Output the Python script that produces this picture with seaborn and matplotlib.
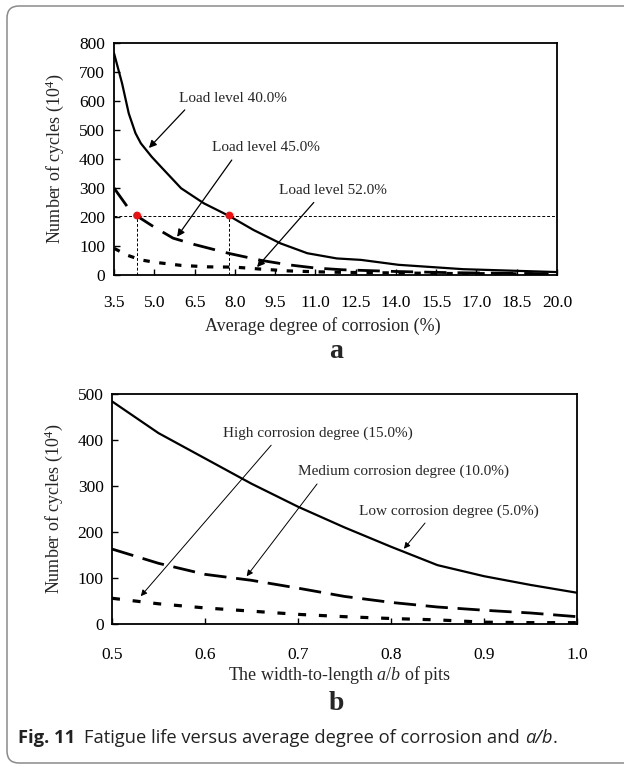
import numpy as np
import pandas as pd
import matplotlib
matplotlib.use("Agg")
import matplotlib.pyplot as plt
from matplotlib.patches import FancyBboxPatch
import seaborn as sns

# ---------------- data: panel a ----------------
corrosion_40 = [3.5, 3.8, 4.05, 4.3, 4.5, 4.9, 5.25, 6.0, 6.85, 7.8, 8.7, 9.7, 10.7, 11.8, 12.7, 14.1, 16.5, 20.0]
cycles_40 = [765, 661, 557, 489, 454, 408, 373, 299, 247, 203, 155, 109, 75, 57, 52, 35, 20, 10]
corrosion_45 = [3.5, 4.0, 4.36, 5.0, 5.7, 6.5, 7.8, 9.0, 10.0, 11.0, 12.0, 14.0, 16.0, 18.0, 20.0]
cycles_45 = [300, 235, 203, 165, 127, 105, 74, 50, 35, 24, 18, 12, 8, 6, 4]
corrosion_52 = [3.5, 4.0, 4.5, 5.0, 6.0, 7.0, 8.0, 9.0, 10.0, 11.0, 12.0, 14.0, 16.0, 18.0, 20.0]
cycles_52 = [92, 68, 52, 44, 33, 28, 27, 20, 14, 11, 9, 7, 5, 4, 3]
target_cycles = 205
crossing_x = [4.36, 7.8]
crossing_y = [205, 205]
xticks_a = [3.5, 5.0, 6.5, 8.0, 9.5, 11.0, 12.5, 14.0, 15.5, 17.0, 18.5, 20.0]
yticks_a = [0, 100, 200, 300, 400, 500, 600, 700, 800]

# ---------------- data: panel b ----------------
ratio = [0.50, 0.55, 0.60, 0.65, 0.70, 0.75, 0.80, 0.85, 0.90, 0.95, 1.00]
cycles_low = [484, 415, 360, 305, 255, 210, 168, 128, 104, 85, 68]
cycles_med = [163, 132, 108, 95, 78, 60, 47, 37, 30, 24, 16]
cycles_high = [56, 44, 35, 28, 21, 16, 12, 9, 4, 3, 3]
xticks_b = [0.5, 0.6, 0.7, 0.8, 0.9, 1.0]
yticks_b = [0, 100, 200, 300, 400, 500]

sns.set_theme(style="ticks")
plt.rcParams["font.family"] = ["Liberation Serif", "DejaVu Serif"]
plt.rcParams["mathtext.fontset"] = "custom"
plt.rcParams["mathtext.rm"] = "Liberation Serif"
plt.rcParams["mathtext.it"] = "Liberation Serif:italic"
plt.rcParams["mathtext.bf"] = "Liberation Serif:bold"

fig = plt.figure(figsize=(6.24, 7.67), dpi=100)
fig.patch.set_facecolor("white")

# background frame
bg = fig.add_axes([0, 0, 1, 1], zorder=-5)
bg.set_xlim(0, 624)
bg.set_ylim(767, 0)
bg.axis("off")
bg.add_patch(FancyBboxPatch((7, 6), 630, 757, boxstyle="round,pad=0,rounding_size=12",
                            fc="white", ec="#8a8a8a", lw=1.1))

def style_axes(ax, xpad, ypad):
    for s in ax.spines.values():
        s.set_visible(True)
        s.set_linewidth(1.3)
        s.set_color("black")
    ax.tick_params(direction="in", length=4, width=1, labelsize=12.5, colors="black")
    ax.tick_params(axis="x", pad=xpad)
    ax.tick_params(axis="y", pad=ypad)
    ax.set_facecolor("white")
    ax.grid(False)

# ---------------- panel a ----------------
axa = fig.add_axes([0.1827, 0.6415, 0.7099, 0.3024])
sns.lineplot(x=corrosion_40, y=cycles_40, ax=axa, color="black", lw=1.6)
sns.lineplot(x=corrosion_45, y=cycles_45, ax=axa, color="black", lw=2.0,
             linestyle=(0, (8, 4)))
sns.lineplot(x=corrosion_52, y=cycles_52, ax=axa, color="black", lw=2.3,
             linestyle=(0, (2, 3)))
axa.axhline(target_cycles, color="black", lw=0.7, linestyle=(0, (3, 2)))
for cx, cy in zip(crossing_x, crossing_y):
    axa.plot([cx, cx], [0, cy], color="black", lw=0.7, linestyle=(0, (3, 2)))
sns.scatterplot(x=crossing_x, y=crossing_y, ax=axa, color="#ee1111", s=32,
                edgecolor="none", zorder=5)
axa.set_xlim(3.5, 20.0)
axa.set_ylim(0, 800)
axa.set_xticks(xticks_a)
axa.set_xticklabels([f"{v:.1f}" for v in xticks_a])
axa.set_yticks(yticks_a)
style_axes(axa, 14.5, 6.5)
axa.set_xlabel("Average degree of corrosion (%)", fontsize=13, labelpad=4)
axa.xaxis.set_label_coords(0.472, -0.18)
axa.set_ylabel(r"Number of cycles (10$^4$)", fontsize=13, labelpad=9)

arrow_a = dict(arrowstyle="-|>", color="black", lw=0.9, mutation_scale=11)
axa.annotate("Load level 40.0%", xy=(4.73, 431), xytext=(5.92, 610), fontsize=11,
             ha="left", va="center", arrowprops=dict(**arrow_a, relpos=(0.1, 0.0)))
axa.annotate("Load level 45.0%", xy=(5.79, 124), xytext=(7.15, 438), fontsize=11,
             ha="left", va="center", arrowprops=dict(**arrow_a, relpos=(0.22, 0.0)))
axa.annotate("Load level 52.0%", xy=(8.76, 20), xytext=(9.63, 291), fontsize=11,
             ha="left", va="center", arrowprops=dict(**arrow_a, relpos=(0.37, 0.0)))

# ---------------- panel b ----------------
axb = fig.add_axes([0.1795, 0.1864, 0.7452, 0.2999])
sns.lineplot(x=ratio, y=cycles_low, ax=axb, color="black", lw=1.6)
sns.lineplot(x=ratio, y=cycles_med, ax=axb, color="black", lw=2.0,
             linestyle=(0, (8, 3.5)))
sns.lineplot(x=ratio, y=cycles_high, ax=axb, color="black", lw=2.3,
             linestyle=(0, (2.5, 4)))
axb.set_xlim(0.5, 1.0)
axb.set_ylim(0, 500)
axb.set_xticks(xticks_b)
axb.set_xticklabels([f"{v:.1f}" for v in xticks_b])
axb.set_yticks(yticks_b)
style_axes(axb, 16.5, 6)
axb.set_xlabel(r"The width-to-length $a/b$ of pits", fontsize=13, labelpad=3)
axb.xaxis.set_label_coords(0.49, -0.175)
axb.set_ylabel(r"Number of cycles (10$^4$)", fontsize=13, labelpad=9)

arrow_b = dict(arrowstyle="-|>", color="black", lw=0.7, mutation_scale=9)
axb.annotate("High corrosion degree (15.0%)", xy=(0.529, 56), xytext=(0.619, 415),
             fontsize=11, ha="left", va="center",
             arrowprops=dict(**arrow_b, relpos=(0.28, 0.0)))
axb.annotate("Medium corrosion degree (10.0%)", xy=(0.643, 99), xytext=(0.700, 331),
             fontsize=11, ha="left", va="center",
             arrowprops=dict(**arrow_b, relpos=(0.11, 0.0)))
axb.annotate("Low corrosion degree (5.0%)", xy=(0.812, 159), xytext=(0.766, 246),
             fontsize=11, ha="left", va="center",
             arrowprops=dict(**arrow_b, relpos=(0.39, 0.0)))

# panel letters
fig.text(0.539, 1 - 352 / 767, "a", fontsize=20, fontweight="bold", ha="center", va="center")
fig.text(0.539, 1 - 703 / 767, "b", fontsize=20, fontweight="bold", ha="center", va="center")

# caption
cap_y = 1 - 738 / 767
cap_fs = 13.2
cap_fam = ["Open Sans", "DejaVu Sans"]
renderer = fig.canvas.get_renderer()
t1 = fig.text(18 / 624, cap_y, "Fig. 11", fontsize=cap_fs, fontweight="bold",
              family=cap_fam, ha="left", va="center", color="#222222")
bb = t1.get_window_extent(renderer)
x2 = (bb.x1 + 9) / fig.bbox.width
t2 = fig.text(x2, cap_y, "Fatigue life versus average degree of corrosion and ", fontsize=cap_fs,
              family=cap_fam, ha="left", va="center", color="#222222")
bb2 = t2.get_window_extent(renderer)
t3 = fig.text(bb2.x1 / fig.bbox.width, cap_y, "a/b", fontsize=cap_fs, style="italic",
              family=cap_fam, ha="left", va="center", color="#222222")
bb3 = t3.get_window_extent(renderer)
fig.text(bb3.x1 / fig.bbox.width, cap_y, ".", fontsize=cap_fs,
         family=cap_fam, ha="left", va="center", color="#222222")

fig.savefig("out.png", dpi=100, facecolor="white")
